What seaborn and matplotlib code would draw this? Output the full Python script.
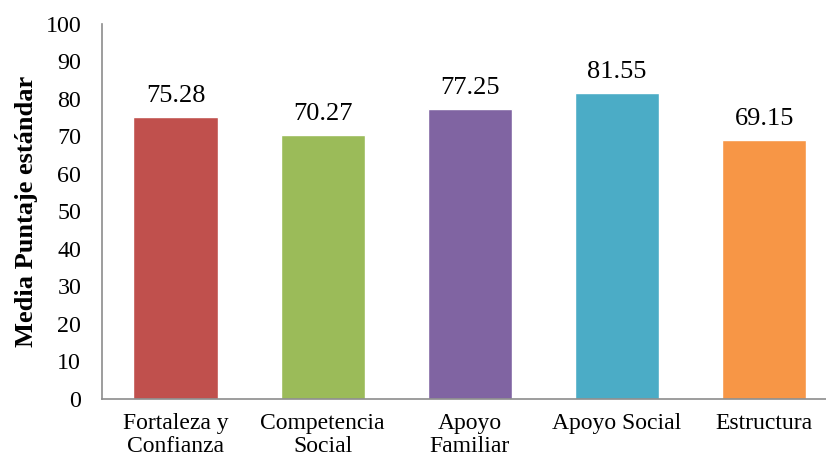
import matplotlib
matplotlib.use("Agg")
import matplotlib.pyplot as plt
import seaborn as sns
import pandas as pd

categories = ["Fortaleza y\nConfianza", "Competencia\nSocial", "Apoyo\nFamiliar", "Apoyo Social", "Estructura"]
values = [75.28, 70.27, 77.25, 81.55, 69.15]
colors = ["#C0504D", "#9BBB59", "#8064A2", "#4BACC6", "#F79646"]
yticks = [0, 10, 20, 30, 40, 50, 60, 70, 80, 90, 100]

sns.set_style("white")
plt.rcParams["font.family"] = ["Liberation Serif", "DejaVu Serif"]
plt.rcParams["text.color"] = "black"
plt.rcParams["axes.labelcolor"] = "black"
plt.rcParams["xtick.color"] = "black"
plt.rcParams["ytick.color"] = "black"

df = pd.DataFrame({"cat": categories, "val": values})

fig = plt.figure(figsize=(8.26, 4.66), dpi=100)
ax = fig.add_axes([0.1235, 0.1438, 0.88, 0.8047])
sns.barplot(data=df, x="cat", y="val", hue="cat", palette=colors, legend=False,
            width=0.573, saturation=1, ax=ax)

for i, v in enumerate(values):
    ax.text(i, v + 4, f"{v:.2f}", ha="center", va="baseline", fontsize=19, color="black")

ax.set_ylim(0, 100)
ax.set_xlim(-0.5, 4.44)
ax.set_yticks(yticks)
ax.tick_params(axis="both", length=0, colors="black")
ax.tick_params(axis="y", pad=15, labelsize=17.3)
ax.tick_params(axis="x", pad=10)
for lab in ax.get_xticklabels():
    lab.set_fontsize(17)
    lab.set_linespacing(1.15)
ax.set_xlabel("")
ax.set_ylabel("Media Puntaje estándar", fontsize=19, fontweight="bold", labelpad=5, color="black")
for s in ["top", "right"]:
    ax.spines[s].set_visible(False)
for s in ["left", "bottom"]:
    ax.spines[s].set_color("#8C8C8C")
    ax.spines[s].set_linewidth(1.2)

fig.savefig("out.png", dpi=100)
